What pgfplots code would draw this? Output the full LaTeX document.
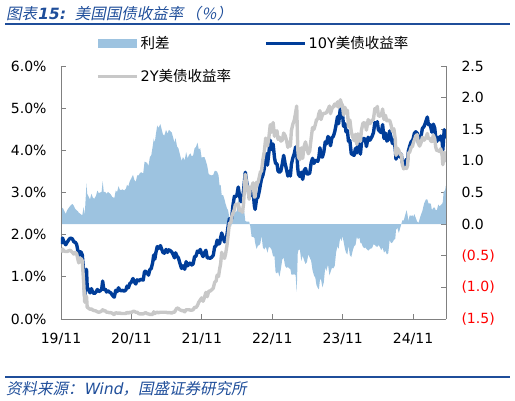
\documentclass[border=0pt]{standalone}
\usepackage{pgfplots}
\pgfplotsset{compat=1.18}
\usepackage{pgfplotstable}
\usepackage{fontspec}
\setmainfont{DejaVu Sans}
\newfontfamily\cjk{Noto Sans CJK SC}
\newfontfamily\cjksl[FakeSlant=0.2]{Noto Sans CJK SC}
\newfontfamily\latsl[FakeSlant=0.2]{DejaVu Sans}
\definecolor{tenY}{RGB}{0,61,153}
\definecolor{twoY}{RGB}{200,200,200}
\definecolor{spreadc}{RGB}{157,195,224}
\definecolor{hdr}{RGB}{31,78,154}
\definecolor{axgray}{RGB}{128,128,128}

\pgfplotstableread{
x y10 y2 sp
2019.833 1.78 1.58 0.20
2019.855 1.92 1.66 0.26
2019.875 1.83 1.61 0.22
2019.900 1.76 1.60 0.16
2019.920 1.82 1.60 0.22
2019.945 1.88 1.62 0.26
2019.965 1.92 1.63 0.29
2019.995 1.90 1.58 0.32
2020.015 1.83 1.54 0.29
2020.035 1.82 1.58 0.24
2020.055 1.77 1.55 0.22
2020.075 1.60 1.40 0.20
2020.085 1.51 1.33 0.18
2020.100 1.60 1.43 0.17
2020.120 1.58 1.43 0.15
2020.135 1.52 1.38 0.14
2020.155 1.13 0.86 0.27
2020.170 0.54 0.40 0.14
2020.195 1.18 0.54 0.64
2020.205 0.76 0.28 0.48
2020.245 0.62 0.23 0.39
2020.265 0.72 0.24 0.48
2020.285 0.63 0.21 0.42
2020.305 0.60 0.20 0.40
2020.330 0.64 0.19 0.45
2020.350 0.70 0.17 0.53
2020.370 0.65 0.16 0.49
2020.390 0.67 0.17 0.50
2020.410 0.70 0.19 0.51
2020.425 0.90 0.22 0.68
2020.440 0.70 0.19 0.51
2020.460 0.71 0.20 0.51
2020.480 0.64 0.16 0.48
2020.500 0.67 0.16 0.51
2020.520 0.64 0.15 0.49
2020.540 0.62 0.15 0.47
2020.560 0.57 0.14 0.43
2020.580 0.53 0.11 0.42
2020.590 0.52 0.11 0.41
2020.610 0.68 0.15 0.53
2020.630 0.65 0.14 0.51
2020.650 0.74 0.14 0.60
2020.670 0.68 0.14 0.54
2020.690 0.67 0.13 0.54
2020.710 0.68 0.13 0.55
2020.730 0.66 0.13 0.53
2020.755 0.69 0.13 0.56
2020.770 0.78 0.16 0.62
2020.790 0.74 0.14 0.60
2020.810 0.84 0.16 0.68
2020.830 0.87 0.15 0.72
2020.855 0.96 0.18 0.78
2020.875 0.88 0.18 0.70
2020.895 0.83 0.16 0.67
2020.915 0.93 0.16 0.77
2020.935 0.90 0.13 0.77
2020.955 0.93 0.12 0.81
2020.975 0.94 0.12 0.82
2021.000 0.92 0.12 0.80
2021.020 1.13 0.14 0.99
2021.035 1.13 0.15 0.98
2021.055 1.10 0.13 0.97
2021.075 1.04 0.12 0.92
2021.095 1.17 0.11 1.06
2021.115 1.20 0.11 1.09
2021.135 1.34 0.11 1.23
2021.150 1.52 0.17 1.35
2021.165 1.42 0.13 1.29
2021.180 1.57 0.15 1.42
2021.200 1.72 0.16 1.56
2021.215 1.67 0.15 1.52
2021.245 1.74 0.16 1.58
2021.260 1.67 0.16 1.51
2021.280 1.58 0.16 1.42
2021.300 1.56 0.16 1.40
2021.325 1.65 0.16 1.49
2021.345 1.58 0.15 1.43
2021.365 1.64 0.15 1.49
2021.385 1.62 0.15 1.47
2021.405 1.59 0.14 1.45
2021.425 1.53 0.16 1.37
2021.445 1.45 0.16 1.29
2021.460 1.57 0.21 1.36
2021.480 1.49 0.26 1.23
2021.500 1.45 0.25 1.20
2021.520 1.33 0.22 1.11
2021.545 1.20 0.20 1.00
2021.565 1.26 0.20 1.06
2021.590 1.18 0.17 1.01
2021.610 1.36 0.22 1.14
2021.630 1.26 0.22 1.04
2021.650 1.31 0.22 1.09
2021.670 1.33 0.21 1.12
2021.690 1.28 0.21 1.07
2021.710 1.31 0.22 1.09
2021.730 1.48 0.28 1.20
2021.750 1.49 0.27 1.22
2021.770 1.61 0.32 1.29
2021.790 1.58 0.40 1.18
2021.810 1.65 0.45 1.20
2021.830 1.55 0.50 1.05
2021.850 1.48 0.42 1.06
2021.870 1.57 0.51 1.06
2021.890 1.63 0.63 1.00
2021.910 1.45 0.53 0.92
2021.930 1.45 0.66 0.79
2021.950 1.44 0.66 0.78
2021.970 1.46 0.69 0.77
2021.995 1.51 0.73 0.78
2022.015 1.71 0.87 0.84
2022.035 1.74 0.90 0.84
2022.050 1.87 1.04 0.83
2022.070 1.78 1.01 0.77
2022.085 1.79 1.18 0.61
2022.100 1.93 1.31 0.62
2022.115 2.04 1.58 0.46
2022.135 1.93 1.47 0.46
2022.155 1.83 1.44 0.39
2022.170 1.86 1.54 0.32
2022.190 2.00 1.75 0.25
2022.205 2.19 1.97 0.22
2022.225 2.38 2.28 0.10
2022.245 2.34 2.28 0.06
2022.255 2.38 2.42 -0.04
2022.275 2.70 2.51 0.19
2022.295 2.91 2.60 0.31
2022.310 2.90 2.72 0.18
2022.330 2.93 2.72 0.21
2022.350 3.13 2.73 0.40
2022.370 2.90 2.57 0.33
2022.390 2.78 2.59 0.19
2022.410 2.85 2.53 0.32
2022.425 3.04 2.73 0.31
2022.450 3.48 3.43 0.05
2022.470 3.24 3.20 0.04
2022.490 3.09 3.05 0.04
2022.505 2.88 2.84 0.04
2022.520 3.08 3.11 -0.03
2022.540 2.93 3.13 -0.20
2022.560 3.03 3.23 -0.20
2022.580 2.67 2.89 -0.22
2022.590 2.60 2.90 -0.30
2022.610 2.85 3.24 -0.39
2022.630 2.89 3.23 -0.34
2022.650 3.04 3.37 -0.33
2022.665 3.19 3.49 -0.30
2022.680 3.32 3.50 -0.18
2022.700 3.41 3.78 -0.37
2022.720 3.57 3.97 -0.40
2022.740 3.93 4.29 -0.36
2022.750 3.83 4.22 -0.39
2022.765 3.65 4.10 -0.45
2022.785 3.95 4.31 -0.36
2022.805 4.24 4.61 -0.37
2022.825 4.02 4.43 -0.41
2022.845 4.15 4.66 -0.51
2022.865 3.82 4.33 -0.51
2022.880 3.69 4.45 -0.76
2022.900 3.68 4.46 -0.78
2022.915 3.51 4.26 -0.75
2022.935 3.48 4.31 -0.83
2022.955 3.51 4.22 -0.71
2022.975 3.68 4.24 -0.56
2022.995 3.88 4.41 -0.53
2023.015 3.69 4.35 -0.66
2023.035 3.55 4.24 -0.69
2023.055 3.39 4.07 -0.68
2023.075 3.50 4.20 -0.70
2023.090 3.39 4.10 -0.71
2023.105 3.67 4.47 -0.80
2023.125 3.82 4.62 -0.80
2023.145 3.92 4.71 -0.79
2023.165 4.08 4.89 -0.81
2023.180 3.98 5.05 -1.07
2023.195 3.57 4.03 -0.46
2023.205 3.43 3.84 -0.41
2023.225 3.38 3.78 -0.40
2023.245 3.48 4.06 -0.58
2023.265 3.31 3.81 -0.50
2023.285 3.52 4.09 -0.57
2023.305 3.57 4.20 -0.63
2023.325 3.44 4.04 -0.60
2023.345 3.44 3.92 -0.48
2023.365 3.46 3.99 -0.53
2023.385 3.70 4.28 -0.58
2023.405 3.81 4.54 -0.73
2023.425 3.69 4.50 -0.81
2023.445 3.76 4.61 -0.85
2023.460 3.76 4.72 -0.96
2023.480 3.74 4.75 -1.01
2023.495 3.84 4.87 -1.03
2023.510 4.06 4.94 -0.88
2023.525 3.86 4.73 -0.87
2023.545 3.84 4.84 -1.00
2023.565 3.96 4.88 -0.92
2023.585 4.20 4.88 -0.68
2023.600 4.15 4.89 -0.74
2023.625 4.33 4.97 -0.64
2023.645 4.24 5.05 -0.81
2023.660 4.11 4.87 -0.76
2023.680 4.30 4.99 -0.69
2023.700 4.33 5.03 -0.70
2023.720 4.44 5.10 -0.66
2023.740 4.61 5.05 -0.44
2023.760 4.80 5.15 -0.35
2023.775 4.63 5.02 -0.39
2023.795 4.93 5.16 -0.23
2023.800 4.98 5.20 -0.22
2023.815 4.84 5.11 -0.27
2023.830 4.88 5.07 -0.19
2023.845 4.57 4.84 -0.27
2023.865 4.63 5.02 -0.39
2023.880 4.44 4.89 -0.45
2023.900 4.47 4.95 -0.48
2023.915 4.22 4.56 -0.34
2023.935 4.23 4.72 -0.49
2023.955 3.92 4.44 -0.52
2023.975 3.90 4.32 -0.42
2023.995 3.88 4.23 -0.35
2024.015 4.05 4.38 -0.33
2024.035 3.94 4.14 -0.20
2024.050 4.15 4.39 -0.24
2024.070 4.15 4.36 -0.21
2024.085 3.91 4.21 -0.30
2024.100 4.18 4.48 -0.30
2024.120 4.28 4.64 -0.36
2024.140 4.28 4.66 -0.38
2024.155 4.25 4.62 -0.37
2024.170 4.09 4.48 -0.39
2024.195 4.31 4.73 -0.42
2024.220 4.24 4.63 -0.39
2024.250 4.33 4.71 -0.38
2024.270 4.42 4.74 -0.32
2024.290 4.66 4.99 -0.33
2024.305 4.62 4.97 -0.35
2024.325 4.68 5.04 -0.36
2024.340 4.49 4.82 -0.33
2024.360 4.45 4.81 -0.36
2024.380 4.42 4.83 -0.41
2024.400 4.61 4.98 -0.37
2024.420 4.28 4.73 -0.45
2024.440 4.41 4.83 -0.42
2024.460 4.22 4.70 -0.48
2024.480 4.25 4.71 -0.46
2024.500 4.46 4.71 -0.25
2024.520 4.30 4.60 -0.30
2024.540 4.16 4.45 -0.29
2024.560 4.26 4.51 -0.25
2024.580 4.03 4.26 -0.23
2024.590 3.79 3.88 -0.09
2024.610 3.99 4.05 -0.06
2024.630 3.86 4.00 -0.14
2024.650 3.84 3.90 -0.06
2024.665 3.91 3.91 0.00
2024.680 3.72 3.66 0.06
2024.700 3.62 3.56 0.06
2024.720 3.73 3.59 0.14
2024.740 3.79 3.57 0.22
2024.755 3.78 3.64 0.14
2024.765 3.98 3.93 0.05
2024.785 4.10 3.96 0.14
2024.805 4.20 4.07 0.13
2024.825 4.24 4.10 0.14
2024.835 4.28 4.17 0.11
2024.850 4.40 4.24 0.16
2024.870 4.44 4.34 0.10
2024.890 4.41 4.37 0.04
2024.910 4.17 4.15 0.02
2024.925 4.18 4.10 0.08
2024.945 4.33 4.18 0.15
2024.965 4.52 4.31 0.21
2024.990 4.57 4.24 0.33
2025.015 4.69 4.30 0.39
2025.035 4.79 4.40 0.39
2025.050 4.61 4.28 0.33
2025.070 4.62 4.29 0.33
2025.085 4.54 4.22 0.32
2025.100 4.43 4.21 0.22
2025.120 4.62 4.36 0.26
2025.140 4.53 4.27 0.26
2025.155 4.29 4.07 0.22
2025.170 4.21 3.99 0.22
2025.190 4.31 4.00 0.31
2025.210 4.25 3.97 0.28
2025.225 4.34 4.04 0.30
2025.245 4.21 3.89 0.32
2025.255 4.01 3.66 0.35
2025.265 4.26 3.76 0.50
2025.275 4.49 3.96 0.53
2025.285 4.32 3.80 0.52
2025.298 4.33 3.72 0.61
}\ustab

\begin{document}
\begin{tikzpicture}[x=1pt,y=1pt]
\path[use as bounding box] (0,0) rectangle (515,-401);
% header
\node[anchor=west, text=hdr, inner sep=0pt, font=\fontsize{15.5}{17}\selectfont] at (6,-14)
  {\cjksl 图表{\bfseries\latsl 15:}\hspace{10pt}美国国债收益率\hspace{2pt}（\hspace{1pt}\%\hspace{1pt}）};
\draw[hdr, line width=2pt] (5,-24) -- (510,-24);
% footer
\draw[hdr, line width=1.5pt] (5,-377) -- (510,-377);
\node[anchor=west, text=hdr, inner sep=0pt, font=\fontsize{15.5}{17}\selectfont] at (6,-389)
  {\cjksl 资料来源：{\latsl Wind}，国盛证券研究所};

% spread axis (right)
\begin{axis}[
  at={(61pt,-319pt)}, anchor=south west,
  scale only axis, width=385pt, height=253pt,
  xmin=2019.833, xmax=2025.30,
  ymin=-1.5, ymax=2.5,
  axis x line=none,
  axis y line*=right,
  axis line style={-, draw=axgray, line width=0.8pt},
  tick style={draw=axgray, line width=0.8pt},
  tick align=inside, major tick length=5pt,
  ytick={-1.5,-1,-0.5,0,0.5,1,1.5,2,2.5},
  yticklabels={{\color{red}(1.5)},{\color{red}(1.0)},{\color{red}(0.5)},0.0,0.5,1.0,1.5,2.0,2.5},
  yticklabel style={font=\fontsize{14}{16}\selectfont, xshift=12pt},
  xtick=\empty,
]
\addplot[fill=spreadc, draw=none] table[x=x, y=sp] {\ustab} \closedcycle;
\end{axis}

% yields axis (left)
\begin{axis}[
  at={(61pt,-319pt)}, anchor=south west,
  scale only axis, width=385pt, height=253pt,
  xmin=2019.833, xmax=2025.30,
  ymin=0, ymax=6,
  axis x line*=bottom,
  axis y line*=left,
  axis line style={-, draw=axgray, line width=0.8pt},
  tick style={draw=axgray, line width=0.8pt},
  tick align=inside, major tick length=5pt,
  ytick={0,1,2,3,4,5,6},
  yticklabels={0.0\%,1.0\%,2.0\%,3.0\%,4.0\%,5.0\%,6.0\%},
  yticklabel style={font=\fontsize{14}{16}\selectfont, xshift=-11pt},
  xtick={2019.833,2020.833,2021.833,2022.833,2023.833,2024.833},
  xticklabels={19/11,20/11,21/11,22/11,23/11,24/11},
  xticklabel style={font=\fontsize{14}{16}\selectfont, yshift=-11pt},
  legend columns=2,
  legend cell align=left,
  legend style={at={(0.091,1.125)}, anchor=north west, draw=none, fill=none,
    inner sep=0pt, row sep=15pt,
    font=\fontsize{14.5}{16}\selectfont,
    /tikz/every even column/.append style={column sep=31pt}},
  legend image code/.code={\draw[#1] (0pt,0pt) -- (39pt,0pt);},
]
\addlegendimage{legend image code/.code={\fill[spreadc] (0pt,-4pt) rectangle (38pt,4pt);}}
\addlegendentry{\cjk 利差}
\addplot[tenY, line width=3.4pt, line join=round] table[x=x, y=y10] {\ustab};
\addlegendentry{10Y{\cjk 美债收益率}}
\addplot[twoY, line width=3.4pt, line join=round] table[x=x, y=y2] {\ustab};
\addlegendentry{2Y{\cjk 美债收益率}}
\end{axis}
\end{tikzpicture}
\end{document}
